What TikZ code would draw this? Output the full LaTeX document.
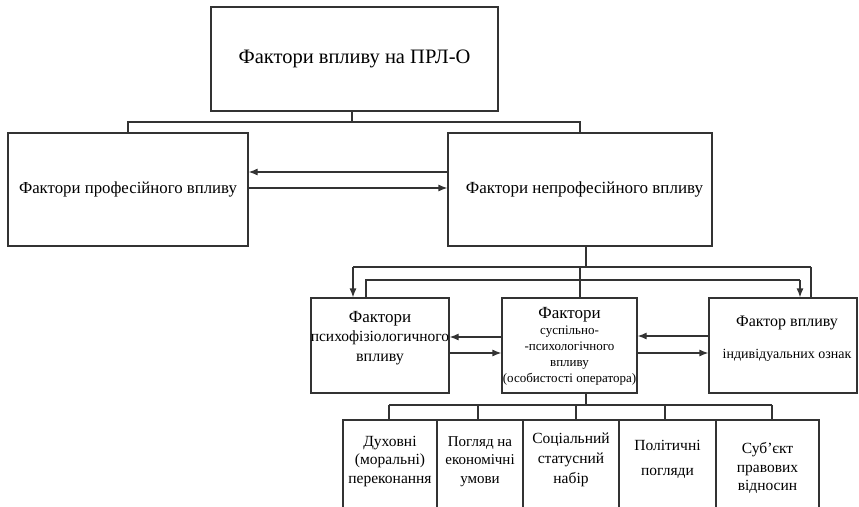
\documentclass[tikz,border=0pt]{standalone}
\usepackage{fontspec}
\setmainfont{Liberation Serif}
\usetikzlibrary{arrows.meta}
\begin{document}
\begin{tikzpicture}[x=1pt,y=-1pt,
  box/.style={draw=black!80, line width=1.2pt, rectangle, inner sep=0pt, align=center},
  txt/.style={inner sep=0pt, align=center},
  link/.style={draw=black!80, line width=1.2pt},
  arr/.style={link, -{Latex[length=9pt,width=7pt]}},
  fs/.style={font=\fontsize{#1}{#1}\selectfont}
]
\useasboundingbox (0,0) rectangle (859,506);
\clip (0,0) rectangle (859,506);

% top level
\node[box, minimum width=287pt, minimum height=104pt, fs=20.5] (top) at (354.5,59) {Фактори впливу на ПРЛ-О};

% second level
\node[box, minimum width=240pt, minimum height=113pt, fs=16.8] (prof) at (128,189.5) {Фактори професійного впливу};
\node[box, minimum width=264pt, minimum height=113pt, fs=17] (nprof) at (580,189.5) {\hspace*{9pt}Фактори непрофесійного впливу};

% third level
\node[box, minimum width=138pt, minimum height=95pt] (ml) at (380,345.5) {};
\node[box, minimum width=135pt, minimum height=95pt] (mc) at (569.5,345.5) {};
\node[box, minimum width=148pt, minimum height=95pt] (mr) at (783,345.5) {};

\node[txt, font=\fontsize{15.5}{19.5}\selectfont] (mlt) at (380,338)
  {{\fontsize{17}{19.5}\selectfont Фактори}\\психофізіологичного\\{\fontsize{16}{19.5}\selectfont впливу}};
\node[txt, font=\fontsize{13}{16}\selectfont] (mct) at (569.5,346.5)
  {{\fontsize{17}{19}\selectfont Фактори}\\суспільно-\\-психологічного\\впливу\\(особистості оператора)};
\node[txt, font=\fontsize{14}{32}\selectfont] (mrt) at (787,339)
  {{\fontsize{16}{32}\selectfont Фактор впливу}\\індивідуальних ознак};

% fourth level
\node[box, minimum width=94pt, minimum height=100pt] (b1) at (390,470) {};
\node[box, minimum width=86pt, minimum height=100pt] (b2) at (480,470) {};
\node[box, minimum width=96pt, minimum height=100pt] (b3) at (571,470) {};
\node[box, minimum width=97pt, minimum height=100pt] (b4) at (667.5,470) {};
\node[box, minimum width=103pt, minimum height=100pt] (b5) at (767.5,470) {};

\node[txt, font=\fontsize{15.5}{18.5}\selectfont] (t1) at (390,461.5) {Духовні\\(моральні)\\переконання};
\node[txt, font=\fontsize{15}{18.5}\selectfont] (t2) at (480,461.5) {Погляд на\\економічні\\умови};
\node[txt, font=\fontsize{15.5}{20}\selectfont] (t3) at (571,460) {Соціальний\\статусний\\набір};
\node[txt, font=\fontsize{15.5}{25}\selectfont] (t4) at (667.5,459.5) {Політичні\\погляди};
\node[txt, font=\fontsize{15.5}{18.5}\selectfont] (t5) at (767.5,468) {Суб’єкт\\правових\\відносин};

% top bus
\coordinate (bus1) at (352,122);
\draw[link] (top.south -| bus1) -- (bus1);
\draw[link] (prof.north) |- (bus1) -| (nprof.north);

% professional <-> non-professional
\draw[arr] ([yshift=17.5pt]nprof.west) -- ([yshift=17.5pt]prof.east);
\draw[arr] ([yshift=1.5pt]prof.east) -- ([yshift=1.5pt]nprof.west);

% buses to the third level
\coordinate (bus2) at (586,267);
\coordinate (bus2l) at (353,267);
\coordinate (bus2r) at (811,267);
\coordinate (drop) at (580,267);
\draw[link] (nprof.south -| bus2) -- (bus2);
\draw[link] (bus2l) -- (bus2r);
\draw[arr] (bus2l) -- (ml.north -| bus2l);
\draw[link] (bus2r) -- (mr.north -| bus2r);
\draw[link] (drop) -- (mc.north -| drop);

\coordinate (bus3l) at (366,280);
\coordinate (bus3r) at (800,280);
\draw[link] (ml.north -| bus3l) -- (bus3l) -- (bus3r);
\draw[arr] (bus3r) -- (mr.north -| bus3r);

% third level arrows
\draw[arr] ([yshift=8.5pt]mc.west) -- ([yshift=8.5pt]ml.east);
\draw[arr] ([yshift=-7.5pt]ml.east) -- ([yshift=-7.5pt]mc.west);
\draw[arr] ([yshift=9.5pt]mr.west) -- ([yshift=9.5pt]mc.east);
\draw[arr] ([yshift=-7.5pt]mc.east) -- ([yshift=-7.5pt]mr.west);

% bottom bus
\coordinate (bus4) at (586,405);
\coordinate (d1) at (389,405);
\coordinate (d2) at (478,405);
\coordinate (d3) at (576,405);
\coordinate (d4) at (665,405);
\coordinate (d5) at (772,405);
\draw[link] (mc.south -| bus4) -- (bus4);
\draw[link] (d1) -- (d5);
\draw[link] (d1) -- (b1.north -| d1);
\draw[link] (d2) -- (b2.north -| d2);
\draw[link] (d3) -- (b3.north -| d3);
\draw[link] (d4) -- (b4.north -| d4);
\draw[link] (d5) -- (b5.north -| d5);
\end{tikzpicture}
\end{document}
